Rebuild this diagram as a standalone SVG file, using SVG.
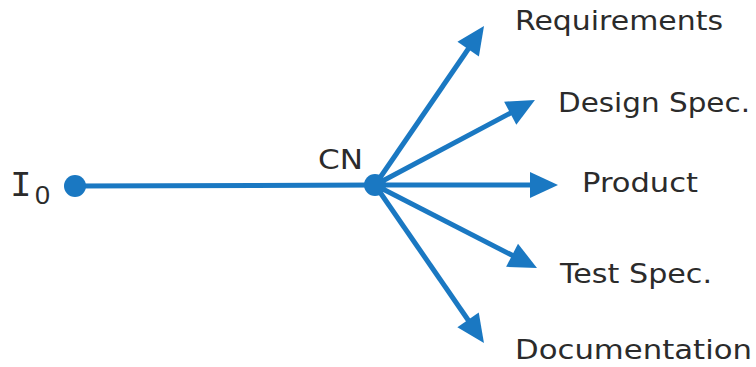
<svg xmlns="http://www.w3.org/2000/svg" width="756" height="367" viewBox="0 0 756 367">
  <style>
    .edge { stroke: #1a78c2; stroke-width: 5; fill: none; }
    .dot { fill: #1a78c2; }
    .lbl { font-family: "DejaVu Sans", Verdana, sans-serif; font-size: 26px; fill: #2b2b2b; }
    .sym { font-family: "Liberation Mono", "DejaVu Sans Mono", monospace; fill: #2b2b2b; }
    .sub { font-family: "Liberation Sans", Arial, sans-serif; fill: #2b2b2b; }
  </style>
  <defs>
    <!-- filled triangular arrowhead, tip at the path end -->
    <marker id="head" markerUnits="userSpaceOnUse" markerWidth="30" markerHeight="28" refX="8" refY="13" orient="auto" overflow="visible">
      <path d="M0,0 L28,13 L0,26 z" fill="#1a78c2"/>
    </marker>
  </defs>
  <rect width="756" height="367" fill="#fff"/>

  <!-- lines end 20px short of each tip; the marker reaches forward to the tip -->
  <g id="connectors">
    <line class="edge" x1="75" y1="186" x2="375" y2="185"/>
    <line class="edge" x1="375" y1="185" x2="472.7" y2="42.5" marker-end="url(#head)"/>
    <line class="edge" x1="375" y1="185" x2="517.3" y2="109.4" marker-end="url(#head)"/>
    <line class="edge" x1="375" y1="185" x2="538" y2="185" marker-end="url(#head)"/>
    <line class="edge" x1="375" y1="185" x2="519.2" y2="258.9" marker-end="url(#head)"/>
    <line class="edge" x1="375" y1="185" x2="472.6" y2="326.5" marker-end="url(#head)"/>
  </g>

  <g id="node-i0">
    <circle class="dot" cx="75" cy="186" r="11"/>
    <text class="sym" x="10" y="196" font-size="36">I</text>
    <text class="sub" x="35" y="204" font-size="25" textLength="15" lengthAdjust="spacingAndGlyphs">0</text>
  </g>

  <g id="node-cn">
    <circle class="dot" cx="375" cy="185" r="11"/>
    <text class="lbl" x="318" y="169" textLength="45" lengthAdjust="spacingAndGlyphs">CN</text>
  </g>

  <g id="node-requirements">
    <text class="lbl" x="515" y="30" textLength="208" lengthAdjust="spacingAndGlyphs">Requirements</text>
  </g>
  <g id="node-design">
    <text class="lbl" x="558" y="112" textLength="192" lengthAdjust="spacingAndGlyphs">Design Spec.</text>
  </g>
  <g id="node-product">
    <text class="lbl" x="582" y="192" textLength="116" lengthAdjust="spacingAndGlyphs">Product</text>
  </g>
  <g id="node-test">
    <text class="lbl" x="560" y="283" textLength="152" lengthAdjust="spacingAndGlyphs">Test Spec.</text>
  </g>
  <g id="node-documentation">
    <text class="lbl" x="515" y="359" textLength="237" lengthAdjust="spacingAndGlyphs">Documentation</text>
  </g>
</svg>
